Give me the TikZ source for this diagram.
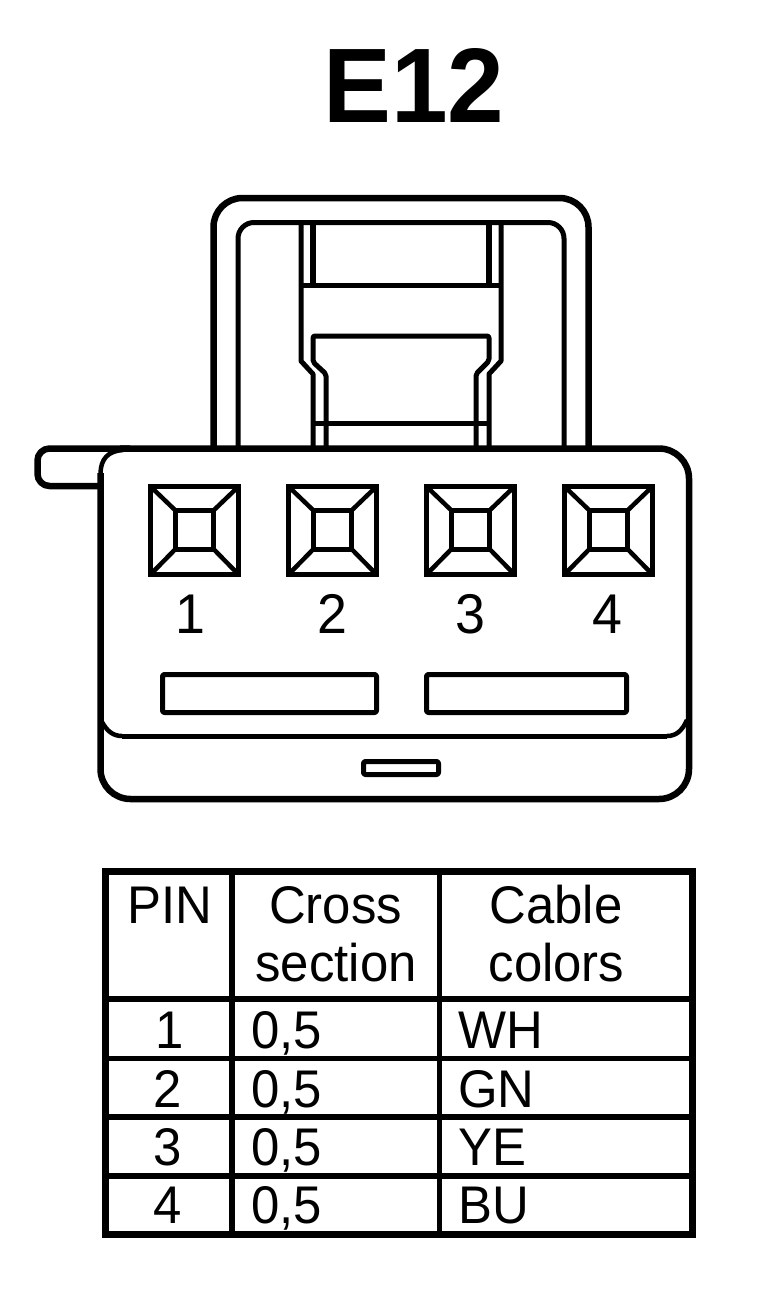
\documentclass[tikz,border=0pt]{standalone}
\usepackage{fontspec}
\setmainfont[FakeStretch=0.96]{Liberation Sans}
\tikzset{
  px/.style={x=1pt,y=-1pt},
  heavy/.style={draw=black,line width=6.5pt,line join=round},
  medium/.style={draw=black,line width=5pt,line join=round},
  thin line/.style={draw=black,line width=4.5pt,line join=round},
  gridline/.style={draw=black,line width=5.5pt},
  pinlabel/.style={anchor=base,inner sep=0pt,font=\fontsize{56}{56}\selectfont},
  celltext/.style={anchor=base,inner sep=0pt,font=\fontsize{53}{53}\selectfont},
  celltextw/.style={anchor=base west,inner sep=0pt,font=\fontsize{53}{53}\selectfont},
  titletext/.style={anchor=base west,inner sep=0pt,font=\bfseries\fontsize{106}{106}\selectfont},
}
\begin{document}
\begin{tikzpicture}[px]
\useasboundingbox (0,0) rectangle (768,1302);
\fill[white] (0,0) rectangle (768,1302);

\node[titletext] (title) at (323,122) {E12};

% latch
\draw[heavy,rounded corners=29pt] (213.5,448) -- (213.5,198) -- (588.5,198) -- (588.5,448);
\draw[medium,rounded corners=16pt] (238,448) -- (238,222.5) -- (564,222.5) -- (564,448);
\draw[medium] (301,222.5) -- (301,361) -- (313,374) -- (313,448);
\draw[medium] (501,222.5) -- (501,361) -- (489,374) -- (489,448);
\draw[line width=5.5pt] (313,222.5) -- (313,285);
\draw[line width=5.5pt] (489,222.5) -- (489,285);
\draw[medium] (301,285) -- (501,285);
\draw[medium,rounded corners=2pt] (326,448) -- (326,374) -- (313,362) -- (313,336) -- (489,336) -- (489,361) -- (476,374) -- (476,448);
\draw[medium] (313,423) -- (489,423);

% housing
\draw[heavy,rounded corners=12pt] (100.5,486) -- (37.5,486) -- (37.5,448.5) -- (130,448.5);
\draw[heavy,rounded corners=30pt] (120,448.5) -- (689,448.5) -- (689,799) -- (100.5,799) -- (100.5,473);
\draw[thin line] (100.5,474) .. controls (100.5,459) and (108,451) .. (123,450);
\draw[medium] (122,736) -- (667,736);
\draw[thin line] (102,722) .. controls (107,731) and (113,736) .. (122,736);
\draw[thin line] (667,736) .. controls (676,736) and (682,731) .. (687,720);

% contacts
\foreach \dx in {0,138,276,414}{
  \begin{scope}[shift={(\dx,0)}]
    \draw[medium,line join=miter] (150.5,486.5) rectangle (238.5,574.5);
    \draw[medium,line join=miter] (175.5,510.5) rectangle (213.5,549);
    \draw[thin line] (150.5,486.5) -- (175.5,510.5);
    \draw[thin line] (238.5,486.5) -- (213.5,510.5);
    \draw[thin line] (150.5,574.5) -- (175.5,549);
    \draw[thin line] (238.5,574.5) -- (213.5,549);
  \end{scope}
}
\node[pinlabel] (p1) at (190,633) {1};
\node[pinlabel] (p2) at (332,633) {2};
\node[pinlabel] (p3) at (470,633) {3};
\node[pinlabel] (p4) at (607,633) {4};

% slots
\draw[medium,rounded corners=2pt] (162.5,674.5) rectangle (376.5,712.5);
\draw[medium,rounded corners=2pt] (426.5,674.5) rectangle (626.5,712.5);
\draw[medium,rounded corners=2pt] (363.5,761.5) rectangle (438.5,774.5);

% table
\draw[draw=black,line width=7pt,line join=miter] (105.5,871) rectangle (692.3,1234.3);
\draw[line width=6pt] (232,871) -- (232,1234);
\draw[medium] (439,871) -- (439,1234);
\draw[line width=6pt] (105.5,999) -- (692,999);
\draw[medium] (105.5,1058) -- (692,1058);
\draw[gridline] (105.5,1117) -- (692,1117);
\draw[gridline] (105.5,1176) -- (692,1176);

\node[celltext] (hpin) at (170,923) {PIN};
\node[celltext] (hcross) at (335.5,923) {Cross};
\node[celltext] (hsection) at (336,981) {section};
\node[celltext] (hcable) at (556,923) {Cable};
\node[celltext] (hcolors) at (556.5,981) {colors};

\node[celltext] (r1) at (170,1048) {1};
\node[celltext] (r2) at (168,1107) {2};
\node[celltext] (r3) at (168,1165) {3};
\node[celltext] (r4) at (168,1223) {4};
\node[celltextw] (c1) at (251,1048) {0,5};
\node[celltextw] (c2) at (251,1107) {0,5};
\node[celltextw] (c3) at (251,1165) {0,5};
\node[celltextw] (c4) at (251,1223) {0,5};
\node[celltextw] (w1) at (458,1048) {WH};
\node[celltextw] (w2) at (458,1107) {GN};
\node[celltextw] (w3) at (458,1165) {YE};
\node[celltextw] (w4) at (458,1223) {BU};
\end{tikzpicture}
\end{document}
